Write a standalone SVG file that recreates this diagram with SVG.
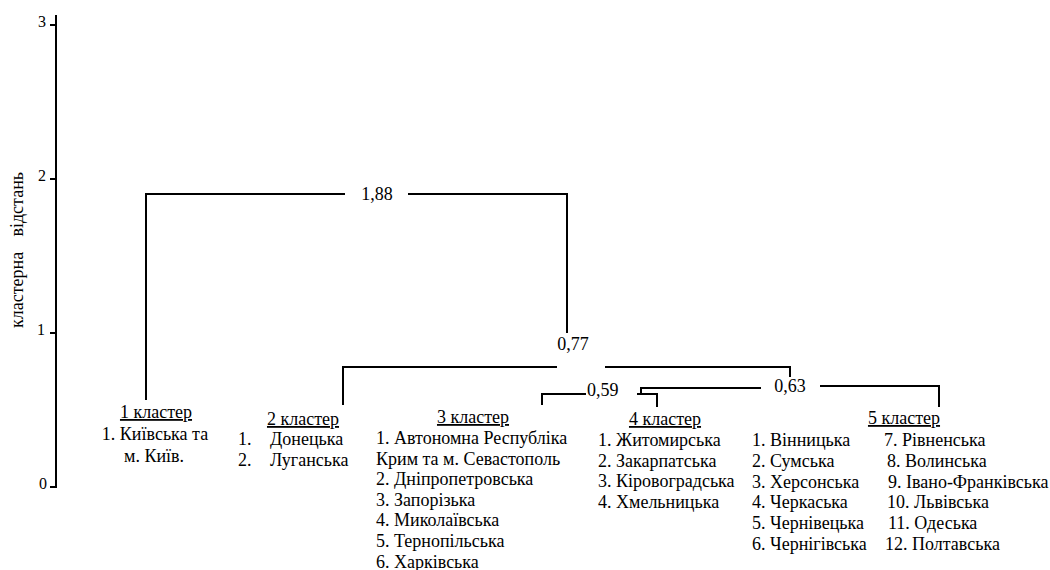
<svg xmlns="http://www.w3.org/2000/svg" width="1050" height="570" viewBox="0 0 1050 570" font-family="'Liberation Serif', 'Times New Roman', 'DejaVu Serif', serif" font-size="18">
<style>
text { font-family: 'Liberation Serif', 'Times New Roman', 'DejaVu Serif', serif; font-size: 18px; fill: #000; }
.h { text-decoration: underline; text-anchor: middle; }
.m { text-anchor: middle; }
.ln { stroke: #000; stroke-width: 2; fill: none; }
.tk { font-size: 16px; text-anchor: end; }
</style>
<rect width="1050" height="570" fill="#fff"/>
<g id="axis">
  <path class="ln" d="M56,15 V488 M50,25 H56 M50,179 H56 M50,333 H56 M50,487 H56"/>
  <text class="tk" x="46" y="27">3</text>
  <text class="tk" x="46" y="181">2</text>
  <text class="tk" x="45" y="335">1</text>
  <text class="tk" x="47" y="489">0</text>
  <text transform="translate(23,328) rotate(-90)">кластерна<tspan x="156" text-anchor="end">відстань</tspan></text>
</g>
<g id="connectors">
  <path class="ln" d="M146,400 V194 H345 M408,194 H567 V333"/>
  <path class="ln" d="M343,405 V367 H557 M605,367 H790 V377"/>
  <path class="ln" d="M542,405 V394 H586"/>
  <path class="ln" d="M637,394 H657 V407 M641,394 V388 H761"/>
  <path class="ln" d="M820,386 H939 V407"/>
  <text class="m" x="377" y="200">1,88</text>
  <text class="m" x="573" y="350">0,77</text>
  <text x="587" y="396">0,59</text>
  <text class="m" x="790" y="392">0,63</text>
</g>
<g id="cluster1">
  <text class="h" x="156" y="418">1 кластер</text>
  <text class="m" x="155" y="440">1. Київська та</text>
  <text class="m" x="154" y="462">м. Київ.</text>
</g>
<g id="cluster2">
  <text class="h" x="303" y="425">2 кластер</text>
  <text x="238" y="445">1.</text><text x="270" y="445">Донецька</text>
  <text x="238" y="466">2.</text><text x="270" y="466">Луганська</text>
</g>
<g id="cluster3">
  <text class="h" x="473" y="423">3 кластер</text>
  <text x="376" y="444">1. Автономна Республіка</text>
  <text x="376" y="464.6">Крим та м. Севастополь</text>
  <text x="376" y="485.2">2. Дніпропетровська</text>
  <text x="376" y="505.8">3. Запорізька</text>
  <text x="376" y="526.4">4. Миколаївська</text>
  <text x="376" y="547">5. Тернопільська</text>
  <text x="376" y="567.6">6. Харківська</text>
</g>
<g id="cluster4">
  <text class="h" x="665" y="425">4 кластер</text>
  <text x="598" y="446">1. Житомирська</text>
  <text x="598" y="466.5">2. Закарпатська</text>
  <text x="598" y="487">3. Кіровоградська</text>
  <text x="598" y="507.5">4. Хмельницька</text>
</g>
<g id="cluster5">
  <text class="h" x="904" y="424">5 кластер</text>
  <text x="752" y="446">1. Вінницька</text>
  <text x="752" y="467">2. Сумська</text>
  <text x="752" y="487.5">3. Херсонська</text>
  <text x="752" y="508">4. Черкаська</text>
  <text x="752" y="529">5. Чернівецька</text>
  <text x="752" y="550">6. Чернігівська</text>
  <text x="884" y="446">7. Рівненська</text>
  <text x="887" y="467">8. Волинська</text>
  <text x="888" y="487.5">9. Івано-Франківська</text>
  <text x="887" y="508">10. Львівська</text>
  <text x="888" y="529">11. Одеська</text>
  <text x="885" y="550">12. Полтавська</text>
</g>
</svg>
